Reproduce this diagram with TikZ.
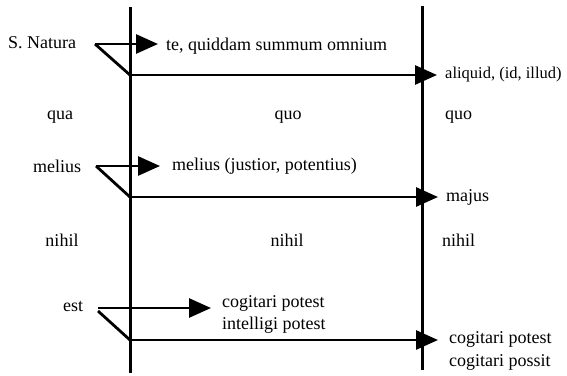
\documentclass[tikz,border=0pt]{standalone}
\usepackage{fontspec}
\setmainfont{Liberation Serif}
\usetikzlibrary{arrows.meta}
\begin{document}
\begin{tikzpicture}[x=1pt,y=-1pt,
  lbl/.style={inner sep=0pt, anchor=west, font=\fontsize{18}{21}\selectfont},
  clbl/.style={lbl, anchor=center},
  rule/.style={line width=3pt},
  conn/.style={line width=2.8pt, line join=miter},
  arr/.style={conn, -{Triangle[length=22pt,width=19pt]}}]
\useasboundingbox (0,0) rectangle (567,375);

% vertical rules
\coordinate (L1) at (130,7);
\coordinate (L2) at (130,373);
\coordinate (R1) at (422,6);
\coordinate (R2) at (422,370);
\draw[rule] (L1) -- (L2);
\draw[rule] (R1) -- (R2);

% row labels
\node[lbl] (natura) at (8,43) {S. Natura};
\node[lbl] (te) at (166,46) {te, quiddam summum omnium};
\node[lbl, font=\fontsize{16.5}{20}\selectfont] (aliquid) at (445,75) {aliquid, (id, illud)};

\node[clbl] (qua) at (60,117) {qua};
\node[clbl] (quoM) at (288,117) {quo};
\node[lbl] (quoR) at (445,117) {quo};

\node[lbl] (melius) at (33,166) {melius};
\node[lbl] (meliusR) at (172,166) {melius (justior, potentius)};
\node[lbl] (majus) at (446,197) {majus};

\node[clbl] (nihilL) at (62,240) {nihil};
\node[clbl] (nihilM) at (287,240) {nihil};
\node[lbl] (nihilR) at (442,240) {nihil};

\node[lbl] (est) at (63,307) {est};
\node[lbl] (cog1) at (222,303) {cogitari potest};
\node[lbl] (int1) at (222,325) {intelligi potest};
\node[lbl] (cog2) at (449,339) {cogitari potest};
\node[lbl] (poss) at (449,362) {cogitari possit};

% group 1
\coordinate (a0) at (95,44);
\coordinate (a1) at (158,44);
\coordinate (a2) at (130,75);
\coordinate (a3) at (437,75);
\draw[arr] (a0) -- (a1);
\draw[conn] (a0) -- (a2);
\draw[arr] (a2) -- (a3);

% group 2
\coordinate (b0) at (96,166);
\coordinate (b1) at (160,166);
\coordinate (b2) at (130,197);
\coordinate (b3) at (438,197);
\draw[arr] (b0) -- (b1);
\draw[conn] (b0) -- (b2);
\draw[arr] (b2) -- (b3);

% group 3
\coordinate (c0) at (98,308);
\coordinate (c1) at (211,308);
\coordinate (c0b) at (98,311);
\coordinate (c2) at (130,340);
\coordinate (c3) at (438,340);
\draw[arr] (c0) -- (c1);
\draw[conn] (c0b) -- (c2);
\draw[arr] (c2) -- (c3);
\end{tikzpicture}
\end{document}
